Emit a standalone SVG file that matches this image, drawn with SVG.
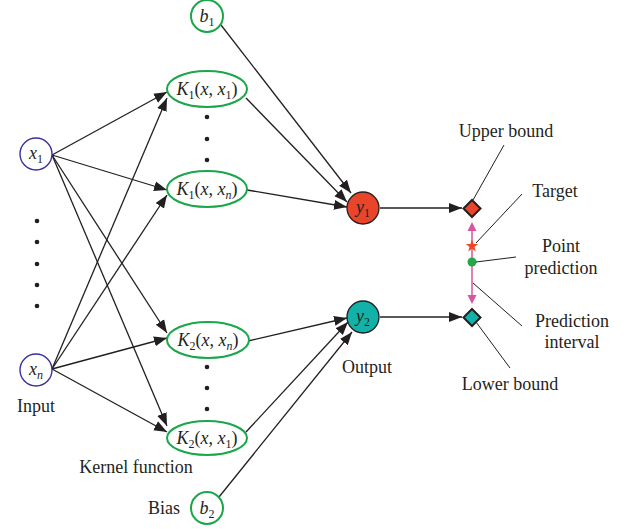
<svg xmlns="http://www.w3.org/2000/svg" width="631" height="529" viewBox="0 0 631 529">
<style>
text{font-family:"Liberation Serif","Times New Roman",serif;fill:#231f20}
.lbl{font-size:18px;text-anchor:middle}
.m{font-size:18px;text-anchor:middle}
.i{font-style:italic}
.s{font-size:12px}
.g{fill:#fff;stroke:#1aa64a;stroke-width:2}
.b{fill:#fff;stroke:#3b2f9a;stroke-width:1.4}
.c line{stroke:#231f20;stroke-width:1.3}
.a{marker-end:url(#ah)}
.ld{stroke:#231f20;stroke-width:1;fill:none}
</style>
<defs>
<marker id="ah" markerUnits="userSpaceOnUse" markerWidth="14" markerHeight="12" refX="13" refY="5" orient="auto" viewBox="0 0 14 10">
<path d="M0,0 L13,5 L0,10 Z" fill="#231f20"/>
</marker>
</defs>
<g id="connectors" class="c">
<line class="a" x1="52" y1="155" x2="167" y2="92"/>
<line class="a" x1="52" y1="155" x2="167" y2="190"/>
<line class="a" x1="52" y1="155" x2="167" y2="333"/>
<line class="a" x1="52" y1="155" x2="167" y2="426"/>
<line class="a" x1="52" y1="369" x2="167" y2="98"/>
<line class="a" x1="52" y1="369" x2="167" y2="195"/>
<line class="a" x1="52" y1="369" x2="167" y2="338"/>
<line class="a" x1="52" y1="369" x2="167" y2="432"/>
<line class="a" x1="221" y1="25" x2="351" y2="193"/>
<line class="a" x1="246" y1="98" x2="347" y2="202"/>
<line class="a" x1="247" y1="190" x2="347" y2="207"/>
<line class="a" x1="380" y1="208" x2="462" y2="208"/>
<line class="a" x1="248" y1="341" x2="347" y2="318"/>
<line class="a" x1="246" y1="432" x2="348" y2="322"/>
<line class="a" x1="219" y1="497" x2="352" y2="332"/>
<line class="a" x1="380" y1="317" x2="462" y2="317"/>
</g>
<g id="x1"><circle class="b" cx="36" cy="154" r="16"/><text class="m" x="36" y="159"><tspan class="i">x</tspan><tspan class="s" dy="4">1</tspan></text></g>
<g id="xn"><circle class="b" cx="36" cy="370" r="16"/><text class="m" x="36" y="375"><tspan class="i">x</tspan><tspan class="s i" dy="4">n</tspan></text></g>
<g id="input-dots" fill="#231f20"><circle cx="37" cy="221" r="2.3"/><circle cx="37" cy="242" r="2.3"/><circle cx="37" cy="264" r="2.3"/><circle cx="37" cy="285" r="2.3"/><circle cx="37" cy="306" r="2.3"/></g>
<g id="b1"><circle class="g" cx="207" cy="16" r="16"/><text class="m" x="207" y="22"><tspan class="i">b</tspan><tspan class="s" dy="4">1</tspan></text></g>
<g id="k1x1"><ellipse class="g" cx="207" cy="89" rx="40" ry="18"/><text class="m" x="207" y="95"><tspan class="i">K</tspan><tspan class="s" dy="4">1</tspan><tspan dy="-4">(</tspan><tspan class="i">x</tspan>, <tspan class="i">x</tspan><tspan class="s" dy="4">1</tspan><tspan dy="-4">)</tspan></text></g>
<g id="k1-dots" fill="#231f20"><circle cx="207" cy="117" r="2.3"/><circle cx="207" cy="139" r="2.3"/><circle cx="207" cy="160" r="2.3"/></g>
<g id="k1xn"><ellipse class="g" cx="207" cy="189" rx="40" ry="18"/><text class="m" x="207" y="195"><tspan class="i">K</tspan><tspan class="s" dy="4">1</tspan><tspan dy="-4">(</tspan><tspan class="i">x</tspan>, <tspan class="i">x</tspan><tspan class="s i" dy="4">n</tspan><tspan dy="-4">)</tspan></text></g>
<g id="k2xn"><ellipse class="g" cx="208" cy="340" rx="41" ry="18"/><text class="m" x="208" y="346"><tspan class="i">K</tspan><tspan class="s" dy="4">2</tspan><tspan dy="-4">(</tspan><tspan class="i">x</tspan>, <tspan class="i">x</tspan><tspan class="s i" dy="4">n</tspan><tspan dy="-4">)</tspan></text></g>
<g id="k2-dots" fill="#231f20"><circle cx="207" cy="367" r="2.3"/><circle cx="207" cy="388" r="2.3"/><circle cx="207" cy="409" r="2.3"/></g>
<g id="k2x1"><ellipse class="g" cx="207" cy="438" rx="40" ry="17"/><text class="m" x="207" y="444"><tspan class="i">K</tspan><tspan class="s" dy="4">2</tspan><tspan dy="-4">(</tspan><tspan class="i">x</tspan>, <tspan class="i">x</tspan><tspan class="s" dy="4">1</tspan><tspan dy="-4">)</tspan></text></g>
<g id="b2"><circle class="g" cx="207" cy="508" r="16"/><text class="m" x="207" y="514"><tspan class="i">b</tspan><tspan class="s" dy="4">2</tspan></text></g>
<g id="y1"><circle cx="363" cy="208" r="16" fill="#e8452a" stroke="#231f20" stroke-width="1.3"/><text class="m" x="363" y="213"><tspan class="i">y</tspan><tspan class="s" dy="4">1</tspan></text></g>
<g id="y2"><circle cx="363" cy="317" r="16" fill="#13b2a8" stroke="#231f20" stroke-width="1.3"/><text class="m" x="363" y="322"><tspan class="i">y</tspan><tspan class="s" dy="4">2</tspan></text></g>
<g id="upper"><path d="M472,200 L480.5,208.5 L472,217 L463.5,208.5 Z" fill="#e8452a" stroke="#231f20" stroke-width="2"/></g>
<g id="lower"><path d="M472,309 L480.5,317.5 L472,326 L463.5,317.5 Z" fill="#13b2a8" stroke="#231f20" stroke-width="2"/></g>
<g id="interval">
<line x1="472" y1="230" x2="472" y2="296" stroke="#d9559f" stroke-width="1.5"/>
<path d="M472,222 L476.5,231 L467.5,231 Z" fill="#d9559f"/>
<path d="M472,304 L476.5,295 L467.5,295 Z" fill="#d9559f"/>
<path d="M472,239.5 L473.6,244 L478.2,244 L474.5,246.9 L475.8,251.4 L472,248.7 L468.2,251.4 L469.5,246.9 L465.8,244 L470.4,244 Z" fill="#f04a24"/>
<circle cx="472" cy="262" r="4.5" fill="#22a845"/>
</g>
<g id="leaders">
<line class="ld" x1="504" y1="145" x2="473" y2="200"/>
<line class="ld" x1="522" y1="194" x2="476" y2="243"/>
<line class="ld" x1="516" y1="257" x2="476" y2="262"/>
<line class="ld" x1="522" y1="326" x2="473" y2="283"/>
<line class="ld" x1="510" y1="368" x2="476" y2="322"/>
</g>
<g id="labels">
<text class="lbl" x="506" y="137">Upper bound</text>
<text class="lbl" x="555" y="197">Target</text>
<text class="lbl" x="561" y="252">Point</text>
<text class="lbl" x="561" y="274">prediction</text>
<text class="lbl" x="572" y="327">Prediction</text>
<text class="lbl" x="572" y="348">interval</text>
<text class="lbl" x="510" y="390">Lower bound</text>
<text class="lbl" x="367" y="373">Output</text>
<text class="lbl" x="36" y="412">Input</text>
<text class="lbl" x="136" y="473">Kernel function</text>
<text class="lbl" x="164" y="514">Bias</text>
</g>
</svg>
